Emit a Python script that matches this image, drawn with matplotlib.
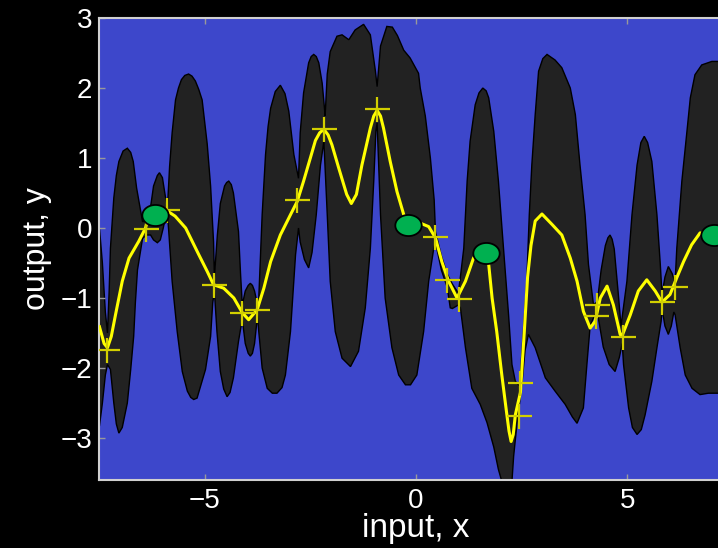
import matplotlib.pyplot as plt
import numpy as np
from matplotlib.path import Path

plt.rcParams['font.family'] = ['Liberation Sans', 'DejaVu Sans']

# upper edge of the shaded uncertainty band
upper_x = [-7.49, -7.42, -7.35, -7.30, -7.26, -7.23, -7.15, -7.09, -7.03, -6.93, -6.83, -6.75,
           -6.69, -6.61, -6.47,
           -6.38, -6.28, -6.21, -6.12, -6.07, -6.00, -5.93, -5.88,
           -5.83, -5.77, -5.69, -5.62, -5.55, -5.47, -5.38, -5.30, -5.22, -5.14, -5.06, -4.94,
           -4.86, -4.79, -4.77,
           -4.70, -4.63, -4.53, -4.48, -4.43, -4.37, -4.32, -4.20, -4.15, -4.11,
           -4.04, -3.97, -3.92, -3.87, -3.82, -3.75,
           -3.72, -3.68, -3.64, -3.56, -3.50, -3.44, -3.33, -3.21, -3.10, -3.01, -2.89, -2.78,
           -2.74, -2.66, -2.54, -2.48, -2.42, -2.36, -2.30, -2.22, -2.17, -2.15,
           -2.10, -2.03, -1.87, -1.75, -1.59, -1.44, -1.24, -1.08, -0.96, -0.92,
           -0.84, -0.69, -0.56, -0.44, -0.29, -0.14, 0.06, 0.10, 0.22, 0.34, 0.43, 0.46,
           0.60, 0.74, 0.86, 1.00,
           1.05, 1.13, 1.21, 1.28, 1.40, 1.49, 1.58, 1.66, 1.72, 1.84, 1.95, 2.07, 2.19, 2.27,
           2.35, 2.44,
           2.47, 2.54, 2.62, 2.68, 2.74, 2.82, 2.90, 3.00, 3.10, 3.29, 3.45, 3.65, 3.77, 3.88,
           4.00, 4.08, 4.20, 4.29,
           4.38, 4.48, 4.54, 4.59, 4.64, 4.69, 4.78, 4.85,
           4.99, 5.11, 5.23, 5.32, 5.40, 5.48, 5.58, 5.70, 5.78, 5.82,
           5.89, 5.97, 6.06, 6.13,
           6.17, 6.29, 6.41, 6.49, 6.60, 6.76, 7.00, 7.50]
upper_y = [0.00, -0.50, -1.20, -1.50, -0.90, -0.29, 0.43, 0.75, 0.95, 1.10, 1.14, 1.08,
           0.95, 0.57, 0.09,
           0.10, 0.30, 0.60, 0.75, 0.79, 0.72, 0.45, 0.30,
           0.88, 1.36, 1.83, 2.00, 2.12, 2.18, 2.20, 2.17, 2.10, 1.98, 1.83, 1.20,
           0.60, -0.20, -0.70,
           -0.10, 0.35, 0.60, 0.65, 0.67, 0.62, 0.50, -0.05, -0.67, -1.10,
           -0.90, -0.82, -0.79, -0.82, -0.90, -1.10,
           -1.00, -0.40, 0.19, 1.05, 1.45, 1.71, 1.95, 2.04, 1.92, 1.67, 1.05, 0.71,
           1.36, 1.93, 2.36, 2.45, 2.48, 2.45, 2.36, 2.07, 1.74, 1.60,
           2.20, 2.52, 2.74, 2.76, 2.69, 2.83, 2.91, 2.76, 2.24, 2.02,
           2.60, 2.88, 2.87, 2.75, 2.54, 2.43, 2.21, 2.00, 1.60, 1.00, 0.40, -0.05,
           -0.40, -0.66, -0.80, -0.93,
           -0.70, -0.29, 0.67, 1.24, 1.76, 1.93, 2.00, 1.96, 1.86, 1.38, 0.67, -0.29, -1.24, -1.95,
           -2.19, -2.25,
           -2.10, -1.48, -0.76, 0.19, 0.90, 1.62, 2.24, 2.42, 2.48, 2.40, 2.29, 2.00, 1.62, 0.90,
           0.19, -0.52, -1.10, -1.05,
           -0.60, -0.25, -0.14, -0.10, -0.16, -0.30, -0.90, -1.40,
           -0.76, 0.19, 0.90, 1.22, 1.31, 1.22, 0.95, 0.19, -0.52, -0.95,
           -0.70, -0.55, -0.65, -0.78,
           -0.29, 0.67, 1.38, 1.86, 2.19, 2.33, 2.38, 2.38]

# lower edge of the shaded uncertainty band
lower_x = [-7.49, -7.42, -7.35, -7.30,
           -7.23, -7.15, -7.09, -7.03, -6.95, -6.83, -6.75, -6.68, -6.64, -6.59, -6.47,
           -6.38, -6.28, -6.21, -6.12, -6.05, -5.98, -5.93, -5.88,
           -5.85, -5.77, -5.65, -5.53, -5.41, -5.33, -5.26, -5.18, -4.98, -4.86, -4.81, -4.77,
           -4.71, -4.63, -4.55, -4.47, -4.40, -4.32, -4.20, -4.11,
           -4.04, -3.97, -3.92, -3.87, -3.82, -3.75,
           -3.72, -3.64, -3.52, -3.40, -3.29, -3.17, -3.09, -2.97, -2.85, -2.78,
           -2.74, -2.64, -2.54, -2.46, -2.36, -2.26, -2.18,
           -2.10, -2.03, -1.91, -1.75, -1.55, -1.36, -1.20, -1.08, -1.00, -0.95, -0.92,
           -0.84, -0.73, -0.57, -0.41, -0.25, -0.13, 0.02, 0.18, 0.30, 0.42, 0.46,
           0.60, 0.74, 0.81, 0.86, 1.00,
           1.05, 1.17, 1.32, 1.52, 1.68, 1.84, 1.95, 2.03, 2.11, 2.19, 2.27, 2.31, 2.39, 2.44,
           2.51, 2.58, 2.66, 2.82, 3.06, 3.29, 3.53, 3.70, 3.81, 3.96, 4.05, 4.12, 4.22, 4.29,
           4.43, 4.57, 4.71, 4.81, 4.88,
           4.91, 5.03, 5.12, 5.23, 5.33, 5.42, 5.58, 5.70, 5.80,
           5.82, 5.89, 5.97, 6.04, 6.10,
           6.13, 6.25, 6.37, 6.53, 6.72, 6.92, 7.50]
lower_y = [-2.83, -2.50, -2.10, -1.95,
           -2.02, -2.50, -2.80, -2.93, -2.85, -2.50, -2.02, -1.55, -1.07, -0.60, -0.15,
           -0.10, -0.10, -0.17, -0.21, -0.17, 0.00, 0.15, 0.20,
           -0.05, -0.76, -1.48, -2.05, -2.33, -2.42, -2.45, -2.43, -2.02, -1.55, -1.07, -0.90,
           -1.48, -2.05, -2.30, -2.41, -2.35, -2.14, -1.62, -1.30,
           -1.65, -1.79, -1.83, -1.79, -1.65, -1.25,
           -1.48, -2.00, -2.29, -2.36, -2.36, -2.28, -2.10, -1.48, -0.38, 0.00,
           -0.20, -0.45, -0.57, -0.35, 0.19, 0.90, 1.24,
           0.19, -0.76, -1.48, -1.86, -1.98, -1.76, -1.14, -0.29, 0.67, 1.38, 1.50,
           0.19, -1.00, -1.71, -2.10, -2.24, -2.24, -2.10, -1.48, -0.76, -0.29, -0.20,
           -0.60, -0.85, -1.14, -1.15, -1.10,
           -1.14, -1.71, -2.29, -2.52, -2.78, -3.13, -3.45, -3.62, -3.75, -3.70, -3.62, -3.26, -2.79, -2.55,
           -2.20, -1.75, -1.52, -1.71, -2.14, -2.33, -2.52, -2.70, -2.79, -2.57, -1.90, -1.40, -1.25, -1.20,
           -1.70, -1.95, -2.05, -1.85, -1.65,
           -1.95, -2.57, -2.85, -2.95, -2.88, -2.67, -2.19, -1.71, -1.33,
           -1.15, -1.40, -1.52, -1.40, -1.20,
           -1.24, -1.71, -2.10, -2.29, -2.38, -2.36, -2.36]

# predictive mean
mean_x = [-7.49, -7.38, -7.30, -7.21, -7.11, -6.95, -6.79, -6.56, -6.40, -6.32, -6.10, -5.90,
          -5.70, -5.45, -5.14, -4.94, -4.79, -4.55, -4.31, -4.11, -3.96, -3.76, -3.60, -3.44,
          -3.21, -2.97, -2.81, -2.66, -2.50, -2.38, -2.28, -2.18, -2.08, -1.99, -1.83, -1.64,
          -1.53, -1.41, -1.28, -1.08, -1.00, -0.92, -0.84, -0.77, -0.61, -0.45, -0.29, -0.19,
          0.10, 0.30, 0.46, 0.61, 0.77, 0.97, 1.17, 1.36, 1.55, 1.66, 1.72, 1.80, 1.91, 2.03,
          2.15, 2.20, 2.25, 2.30, 2.35, 2.47, 2.56, 2.64, 2.72, 2.82, 2.98, 3.22, 3.45, 3.65,
          3.81, 3.96, 4.12, 4.24, 4.36, 4.52, 4.67, 4.83, 4.87, 5.07, 5.26, 5.46, 5.66, 5.82,
          6.01, 6.17, 6.33, 6.52, 6.72, 7.04]
mean_y = [-1.41, -1.65, -1.71, -1.55, -1.24, -0.76, -0.43, -0.19, 0.00, 0.19, 0.24, 0.25,
          0.17, 0.00, -0.38, -0.62, -0.81, -0.86, -1.00, -1.21, -1.31, -1.17, -0.86, -0.48,
          -0.10, 0.19, 0.38, 0.67, 1.00, 1.25, 1.36, 1.41, 1.33, 1.19, 0.86, 0.48,
          0.35, 0.48, 0.90, 1.43, 1.60, 1.68, 1.60, 1.43, 0.95, 0.52, 0.19, 0.07,
          0.07, 0.02, -0.14, -0.48, -0.76, -1.00, -0.76, -0.43, -0.25, -0.30, -0.52, -1.00, -1.48, -2.10,
          -2.67, -2.90, -3.05, -2.95, -2.67, -2.35, -1.50, -0.70, -0.25, 0.10, 0.20, 0.05, -0.10, -0.43,
          -0.76, -1.19, -1.43, -1.33, -1.00, -0.83, -1.10, -1.52, -1.55, -1.24, -0.90, -0.74, -0.90, -1.06,
          -0.95, -0.71, -0.48, -0.24, -0.07, -0.10]

# training observations
obs_x = [-7.31, -6.40, -5.89, -4.79, -4.11, -3.76, -2.81, -2.18, -0.92, 0.46,
         0.73, 1.01, 2.47, 2.43, 4.28, 4.26, 4.90, 5.82, 6.13]
obs_y = [-1.74, -0.02, 0.26, -0.81, -1.21, -1.17, 0.40, 1.42, 1.70, -0.13,
         -0.74, -1.01, -2.21, -2.68, -1.10, -1.26, -1.56, -1.06, -0.84]

# inducing inputs
ind_x = [-6.18, -0.19, 1.66, 7.04]
ind_y = [0.19, 0.04, -0.36, -0.10]

fig = plt.figure(figsize=(7.18, 5.48), dpi=100, facecolor='black')
ax = fig.add_axes([0.1379, 0.1241, 0.883, 0.843])
ax.set_facecolor('#3d47cb')

band_x = upper_x + lower_x[::-1]
band_y = upper_y + lower_y[::-1]
ax.fill(band_x, band_y, facecolor='#222222', edgecolor='black', linewidth=1.0, zorder=1)

ax.plot(mean_x, mean_y, color='#ffff00', linewidth=2.2, zorder=3)
ax.plot(obs_x, obs_y, linestyle='none', marker='+', markersize=18, markeredgewidth=1.6,
        color='#d2cf00', zorder=4)

t = np.linspace(0, 2 * np.pi, 60)
ellipse = Path(np.column_stack([np.cos(t), 0.8 * np.sin(t)]), closed=True)
ax.plot(ind_x, ind_y, linestyle='none', marker=ellipse, markersize=19,
        markerfacecolor='#00b050', markeredgecolor='black', markeredgewidth=1.3, zorder=5)

ax.set_xlim(-7.5, 7.5)
ax.set_ylim(-3.6, 3)
ax.set_xticks([-5, 0, 5])
ax.set_yticks([-3, -2, -1, 0, 1, 2, 3])
ax.set_xticklabels(['\u22125', '0', '5'])
ax.set_yticklabels(['\u22123', '\u22122', '\u22121', '0', '1', '2', '3'])
ax.tick_params(direction='in', length=4, width=1, color='#999999', labelcolor='white',
               labelsize=20, top=True, right=True)
ax.tick_params(axis='x', pad=6)
ax.tick_params(axis='y', pad=5)
for s in ax.spines.values():
    s.set_color('#d0d0d0')
    s.set_linewidth(1.5)

ax.set_xlabel('input, x', color='white', fontsize=24, labelpad=-1)
ax.set_ylabel('output, y', color='white', fontsize=23, labelpad=6)

fig.savefig('out.png', dpi=100, facecolor='black')
